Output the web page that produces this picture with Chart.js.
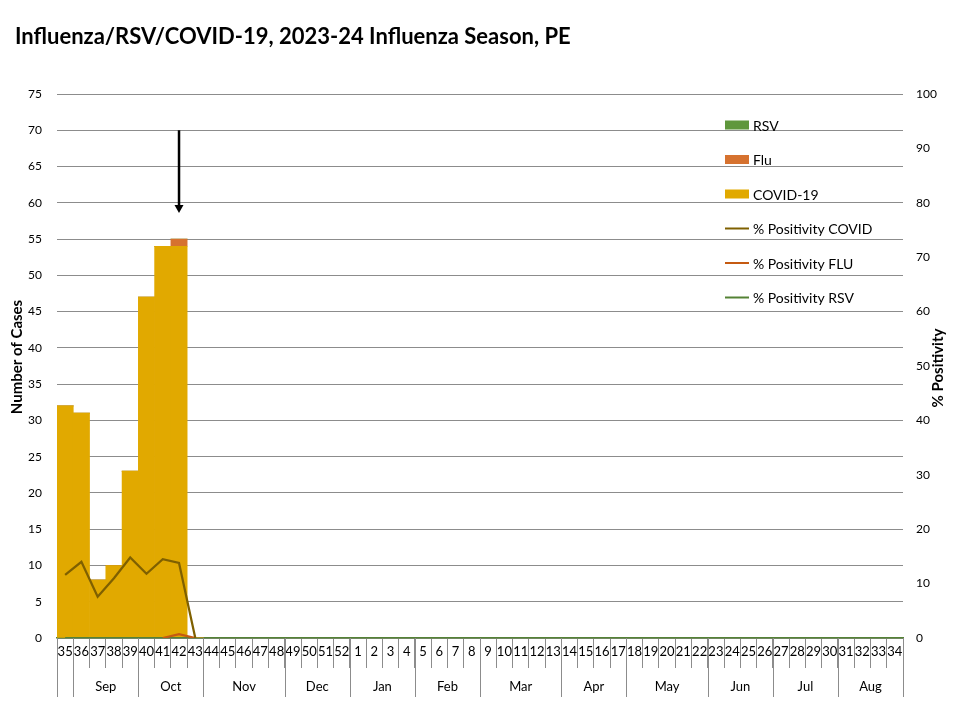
<!DOCTYPE html>
<html>
<head>
<meta charset="utf-8">
<script src="https://cdn.jsdelivr.net/npm/chart.js@4.4.0/dist/chart.umd.min.js"></script>
<style>
  html, body { margin: 0; padding: 0; background: #fff; }
  #wrap { width: 960px; height: 720px; }
</style>
</head>
<body>
<div id="wrap"><canvas id="chart" width="960" height="720"></canvas></div>
<script>
// week numbers of the 2023-24 season
const weeks = ['35','36','37','38','39','40','41','42','43','44','45','46','47','48','49','50','51','52',
  '1','2','3','4','5','6','7','8','9','10','11','12','13','14','15','16','17','18','19','20','21','22',
  '23','24','25','26','27','28','29','30','31','32','33','34']
const months = ['', 'Sep', 'Oct', 'Nov', 'Dec', 'Jan', 'Feb', 'Mar', 'Apr', 'May', 'Jun', 'Jul', 'Aug']
const weeksPerMonth = [1, 4, 4, 5, 4, 4, 4, 5, 4, 5, 4, 4, 4]

// cases (left axis)
const covidCases = [32, 31, 8, 10, 23, 47, 54, 54, 0]
const fluCases = [0, 0, 0, 0, 0, 0, 0, 1, 0]
const rsvCases = [0, 0, 0, 0, 0, 0, 0, 0, 0]

// % positivity (right axis)
const covidPos = [11.6, 14.0, 7.6, 11.0, 14.8, 11.8, 14.5, 13.8, 0]
const fluPos = [null, null, null, null, null, null, 0, 0.7, 0]
const rsvPos = [0, 0, 0, 0, 0, 0, 0, 0, 0]

const FONT = 'Lato, "Open Sans", sans-serif'

const legendItems = [
  { label: 'RSV', type: 'box', color: '#5f973c' },
  { label: 'Flu', type: 'box', color: '#d6722f' },
  { label: 'COVID-19', type: 'box', color: '#e1a900' },
  { label: '% Positivity COVID', type: 'line', color: '#7f6000' },
  { label: '% Positivity FLU', type: 'line', color: '#c55a11' },
  { label: '% Positivity RSV', type: 'line', color: '#548235' }
]

const extras = {
  id: 'extras',
  afterDatasetsDraw(chart) {
    const ctx = chart.ctx
    const x = chart.scales.x
    const y = chart.scales.y
    // arrow marking week 42
    const ax = x.getPixelForValue(7)
    const top = y.getPixelForValue(70)
    const bot = y.getPixelForValue(58.6)
    ctx.save()
    ctx.strokeStyle = '#000'
    ctx.fillStyle = '#000'
    ctx.lineWidth = 2.5
    ctx.beginPath()
    ctx.moveTo(ax, top)
    ctx.lineTo(ax, bot - 7)
    ctx.stroke()
    ctx.beginPath()
    ctx.moveTo(ax - 4.5, bot - 8)
    ctx.lineTo(ax + 4.5, bot - 8)
    ctx.lineTo(ax, bot)
    ctx.closePath()
    ctx.fill()
    ctx.restore()
  },
  afterDraw(chart) {
    const ctx = chart.ctx
    const x = chart.scales.x
    const area = chart.chartArea
    ctx.save()
    // title
    ctx.fillStyle = '#000'
    ctx.font = 'bold 22px ' + FONT
    ctx.textBaseline = 'middle'
    ctx.textAlign = 'left'
    ctx.fillText('Influenza/RSV/COVID-19, 2023-24 Influenza Season, PE', 15, 37)

    // month groups
    const half = (x.getPixelForValue(1) - x.getPixelForValue(0)) / 2
    ctx.strokeStyle = '#8c8c8c'
    ctx.lineWidth = 1
    ctx.font = '13px ' + FONT
    ctx.textAlign = 'center'
    let start = 0
    months.forEach((m, i) => {
      const end = start + weeksPerMonth[i]
      const x0 = x.getPixelForValue(start) - half
      const x1 = x.getPixelForValue(end - 1) + half
      ctx.beginPath()
      ctx.moveTo(Math.round(x0) + 0.5, area.bottom)
      ctx.lineTo(Math.round(x0) + 0.5, area.bottom + 59)
      ctx.stroke()
      if (i === months.length - 1) {
        ctx.beginPath()
        ctx.moveTo(Math.round(x1) + 0.5, area.bottom)
        ctx.lineTo(Math.round(x1) + 0.5, area.bottom + 59)
        ctx.stroke()
      }
      ctx.fillText(m, (x0 + x1) / 2, area.bottom + 49)
      start = end
    })

    // axis titles
    ctx.font = 'bold 15px ' + FONT
    ctx.translate(17, (area.top + area.bottom) / 2 - 9)
    ctx.rotate(-Math.PI / 2)
    ctx.fillText('Number of Cases', 0, 0)
    ctx.setTransform(1, 0, 0, 1, 0, 0)
    ctx.translate(938, (area.top + area.bottom) / 2 + 2)
    ctx.rotate(-Math.PI / 2)
    ctx.fillText('% Positivity', 0, 0)
    ctx.setTransform(1, 0, 0, 1, 0, 0)

    // legend
    ctx.textAlign = 'left'
    ctx.font = '14px ' + FONT
    legendItems.forEach((item, i) => {
      const ly = 125 + i * 34.5
      if (item.type === 'box') {
        ctx.fillStyle = item.color
        ctx.fillRect(725, ly - 4.5, 24, 9)
      } else {
        ctx.strokeStyle = item.color
        ctx.lineWidth = 2
        ctx.beginPath()
        ctx.moveTo(725, ly)
        ctx.lineTo(749, ly)
        ctx.stroke()
      }
      ctx.fillStyle = '#000'
      ctx.fillText(item.label, 753, ly + 1)
    })
    ctx.restore()
  }
}

new Chart(document.getElementById('chart').getContext('2d'), {
  data: {
    labels: weeks,
    datasets: [
      { type: 'bar', label: 'COVID-19', data: covidCases, backgroundColor: '#e1a900', yAxisID: 'y', order: 1, stack: 'cases' },
      { type: 'bar', label: 'Flu', data: fluCases, backgroundColor: '#d6722f', yAxisID: 'y', order: 1, stack: 'cases' },
      { type: 'bar', label: 'RSV', data: rsvCases, backgroundColor: '#5f973c', yAxisID: 'y', order: 1, stack: 'cases' },
      { type: 'line', label: '% Positivity COVID', data: covidPos, borderColor: '#7f6000', borderWidth: 2.25, pointRadius: 0, yAxisID: 'y1', order: 0 },
      { type: 'line', label: '% Positivity FLU', data: fluPos, borderColor: '#c55a11', borderWidth: 2.25, pointRadius: 0, yAxisID: 'y1', order: 0 },
      { type: 'line', label: '% Positivity RSV', data: rsvPos, borderColor: '#548235', borderWidth: 2.25, pointRadius: 0, yAxisID: 'y1', order: 0 }
    ]
  },
  options: {
    responsive: false,
    animation: false,
    layout: { padding: { top: 94, left: 0, right: 0, bottom: 0 } },
    datasets: { bar: { barPercentage: 1, categoryPercentage: 1 } },
    plugins: { legend: { display: false }, tooltip: { enabled: false } },
    scales: {
      x: {
        stacked: true,
        grid: { offset: true, drawOnChartArea: false, tickLength: 30, color: '#8c8c8c' },
        border: { color: '#548235', width: 1.5 },
        ticks: { autoSkip: false, maxRotation: 0, padding: -24, color: '#000', font: { family: FONT, size: 13 } },
        afterFit(scale) { scale.height = 82 }
      },
      y: {
        stacked: true,
        min: 0, max: 75,
        ticks: { stepSize: 5, padding: 15, color: '#000', font: { family: FONT, size: 12 } },
        grid: { color: '#8c8c8c', drawTicks: false },
        border: { display: false },
        afterFit(scale) { scale.width = 57 }
      },
      y1: {
        position: 'right',
        min: 0, max: 100,
        ticks: { stepSize: 10, padding: 13, color: '#000', font: { family: FONT, size: 12 } },
        grid: { display: false, drawTicks: false },
        border: { display: false },
        afterFit(scale) { scale.width = 57 }
      }
    }
  },
  plugins: [extras]
})
</script>
</body>
</html>
